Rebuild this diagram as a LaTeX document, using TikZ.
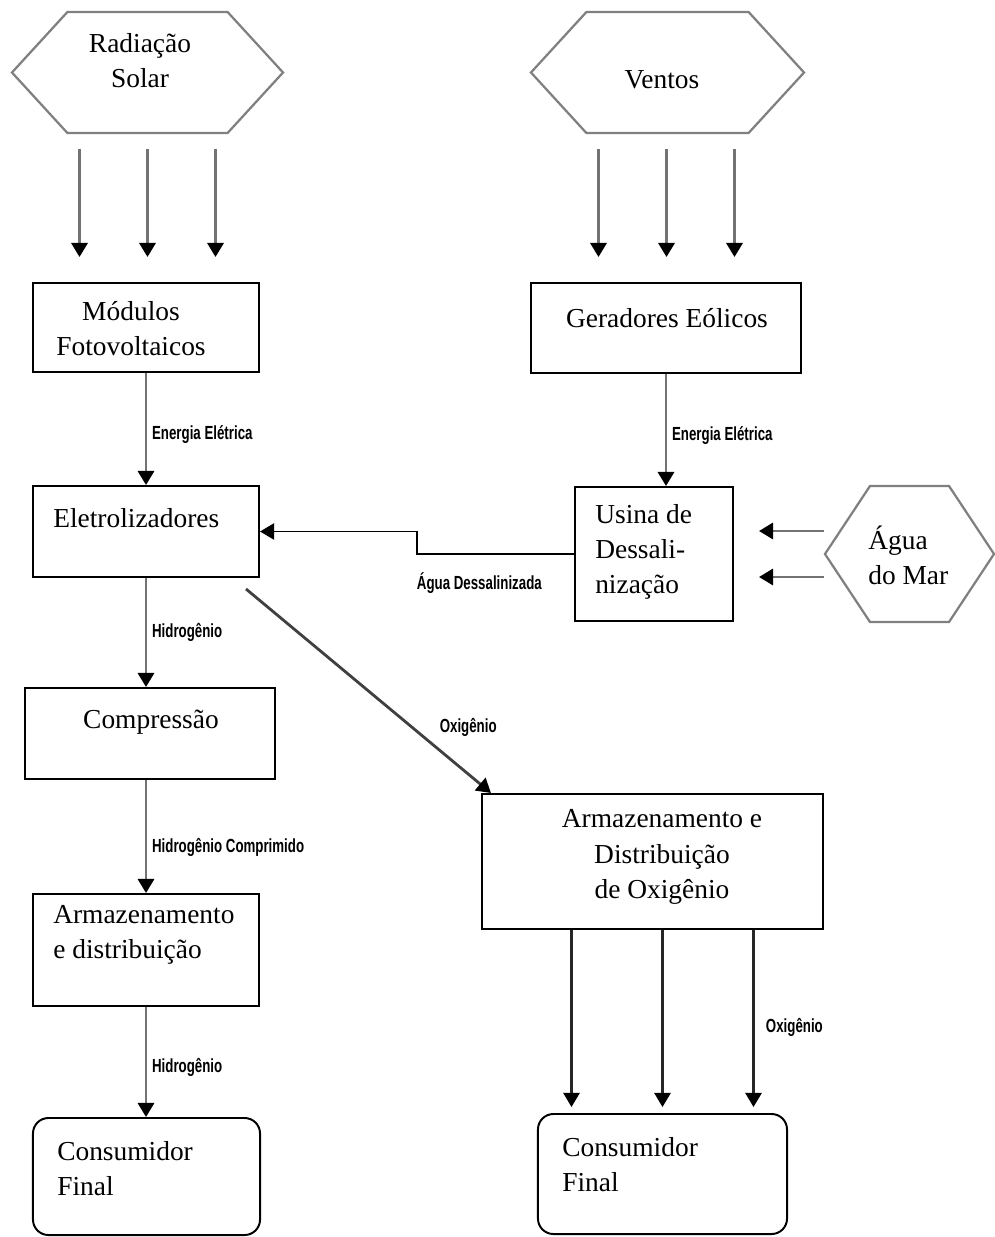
\documentclass[tikz,border=0pt]{standalone}
\usepackage{fontspec}
\setmainfont{Liberation Serif}
\newfontfamily\lblfont[FakeStretch=0.7]{Liberation Sans}
\usepackage{tikz}
\usetikzlibrary{arrows.meta,positioning,shapes.symbols}

\begin{document}
\begin{tikzpicture}[x=0.025cm,y=-0.025cm,
  box/.style={draw,line width=1.4pt,inner sep=0pt},
  endbox/.style={box,rounded corners=11pt},
  hexa/.style={draw=gray,line width=1.6pt,signal,signal to=east and west,inner sep=0pt},
  txt/.style={font=\fontsize{19.5}{25}\selectfont,inner sep=0pt},
  flow/.style={draw=gray!90!black,line width=2pt,-{Triangle[color=black,width=11.5pt,length=10pt]}},
  lbl/.style={font=\lblfont\bfseries\fontsize{13.5}{15}\selectfont}]
  \useasboundingbox (0,0) rectangle (994,1237);

  \node[hexa,signal pointer angle=95,minimum width=6.775cm,minimum height=3.025cm] (solar) at (147.5,72.5) {};
  \node[hexa,signal pointer angle=95,minimum width=6.825cm,minimum height=3.025cm] (vent) at (667.5,72.5) {};
  \node[hexa,signal pointer angle=113,minimum width=4.225cm,minimum height=3.4cm] (agua) at (909.5,554) {};

  \node[box,minimum width=5.65cm,minimum height=2.225cm] (mod) at (146,327.5) {};
  \node[box,minimum width=5.65cm,minimum height=2.275cm] (ele) at (146,531.5) {};
  \node[box,minimum width=6.25cm,minimum height=2.275cm] (comp) at (150,733.5) {};
  \node[box,minimum width=5.65cm,minimum height=2.8cm] (arm) at (146,950) {};
  \node[endbox,minimum width=5.675cm,minimum height=2.925cm] (cons1) at (146.5,1176.5) {};
  \node[box,minimum width=6.75cm,minimum height=2.25cm] (ger) at (666,328) {};
  \node[box,minimum width=3.95cm,minimum height=3.35cm] (usina) at (654,554) {};
  \node[box,minimum width=8.525cm,minimum height=3.375cm] (oxi) at (652.5,861.5) {};
  \node[endbox,minimum width=6.225cm,minimum height=3cm] (cons2) at (662.5,1174) {};

  \node[txt,align=center] (solartxt) at (140,61) {Radiação\\Solar};
  \node[txt] (venttxt) at (662,80) {Ventos};
  \node[txt,align=center] (modtxt) at (131,329) {Módulos\\Fotovoltaicos};
  \node[txt] (gertxt) at (667,318) {Geradores Eólicos};
  \node[txt,anchor=west] (eletxt) at (53,518) {Eletrolizadores};
  \node[txt,anchor=west,align=left] (usinatxt) at (595,552) {Usina de\\Dessali-\\nização};
  \node[txt,anchor=west,align=left] (aguatxt) at (868,555) {Água\\do Mar};
  \node[txt] (comptxt) at (151,722) {Compressão};
  \node[txt,anchor=west,align=left] (armtxt) at (53,935) {Armazenamento\\e distribuição};
  \node[txt,align=center] (oxitxt) at (662,857) {Armazenamento e\\Distribuição\\de Oxigênio};
  \node[txt,anchor=west,align=left] (cons1txt) at (57,1169) {Consumidor\\Final};
  \node[txt,anchor=west,align=left] (cons2txt) at (562,1165) {Consumidor\\Final};

  \foreach \dx in {-68,0,68}
    \draw[flow,shorten <=0.375cm,shorten >=0.625cm] ([xshift=\dx*0.025cm]solar.south) -- ([xshift=\dx*0.025cm]solar.south |- mod.north);
  \foreach \dx in {-69,-1,67}
    \draw[flow,shorten <=0.375cm,shorten >=0.625cm] ([xshift=\dx*0.025cm]vent.south) -- ([xshift=\dx*0.025cm]vent.south |- ger.north);
  \foreach \dy in {23,-23}
    \draw[flow,shorten >=0.625cm] ([yshift=\dy*0.025cm]agua.west) -- ([yshift=\dy*0.025cm]agua.west -| usina.east);

  \draw[flow] (mod.south) -- (ele.north) node[lbl,pos=0.55,right] (lblmod) {Energia Elétrica};
  \draw[flow] (ger.south) -- (ger.south |- usina.north) node[lbl,pos=0.55,right] (lblger) {Energia Elétrica};
  \draw[flow,draw=black,line width=1.3pt] (usina.west) -- ++(-157,0) node[lbl,below right=9pt and -4pt] (lbldes) {Água Dessalinizada} |- (ele.east);
  \draw[flow] (ele.south) -- (ele.south |- comp.north) node[lbl,midway,right] (lblh1) {Hidrogênio};
  \draw[flow] (comp.south -| arm.north) -- (arm.north) node[lbl,pos=0.6,right] (lblh2) {Hidrogênio Comprimido};
  \draw[flow] (arm.south) -- (arm.south |- cons1.north) node[lbl,pos=0.55,right] (lblh3) {Hidrogênio};
  \draw[flow,draw=black!75] ([xshift=-0.35cm,yshift=-0.275cm]ele.south east) -- ([xshift=0.25cm]oxi.north west) node[lbl,pos=0.68,right=15pt] (lblo1) {Oxigênio};
  \foreach \dx in {-91,0,91}
    \draw[flow,draw=black!85,line width=1.5pt,shorten >=0.15cm] ([xshift=\dx*0.025cm]cons2.north |- oxi.south) -- ([xshift=\dx*0.025cm]cons2.north);
  \node[lbl,anchor=west] (lblo2) at (761,1027) {Oxigênio};
\end{tikzpicture}
\end{document}
